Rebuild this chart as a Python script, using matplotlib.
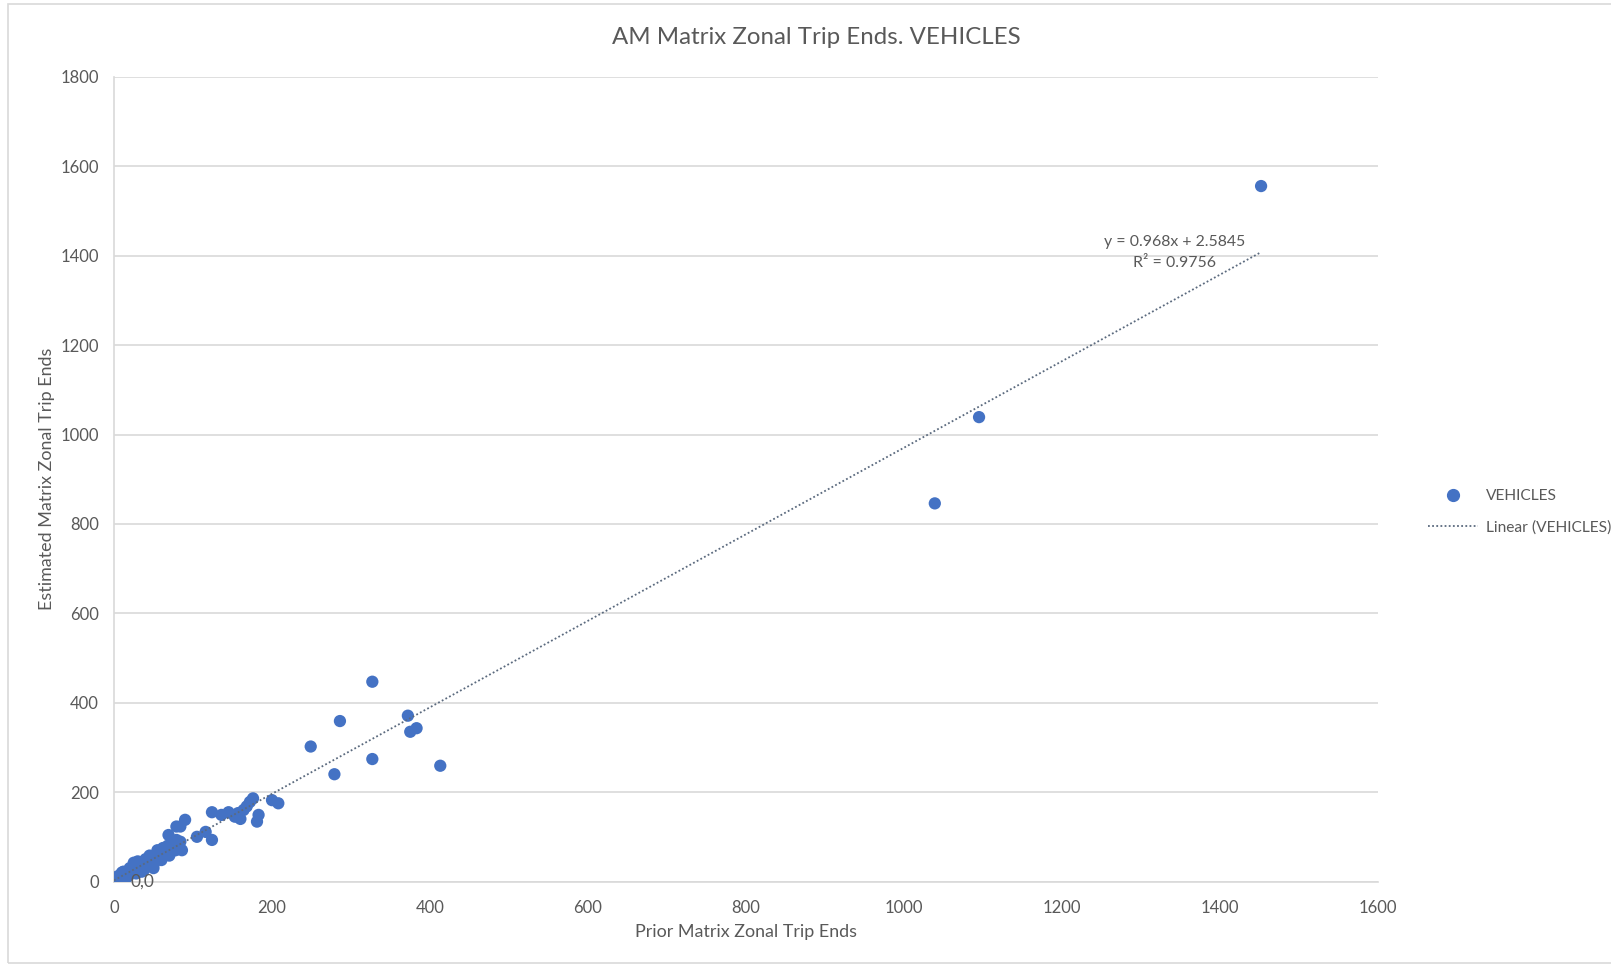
import matplotlib
matplotlib.use("Agg")
import matplotlib.pyplot as plt
from matplotlib.lines import Line2D
from matplotlib.patches import Rectangle

plt.rcParams['font.family'] = ['Lato', 'DejaVu Sans']

title = "AM Matrix Zonal Trip Ends. VEHICLES"
x_label = "Prior Matrix Zonal Trip Ends"
y_label = "Estimated Matrix Zonal Trip Ends"
series_name = "VEHICLES"
trend_name = "Linear (VEHICLES)"

prior = [0, 1, 2, 3, 4, 5, 6, 7, 8, 9, 10, 11, 12, 13, 14, 15, 16, 17, 18, 19, 20,
         22, 23, 25, 26, 28, 29, 31, 32, 34, 35, 37, 38, 40, 41, 43, 44, 46, 48, 50,
         52, 55, 57, 60, 62, 65, 67, 70, 72, 75, 78, 80, 25, 30, 20, 45, 55,
         10, 15, 30, 35, 40, 50, 45, 60, 62, 70, 55, 75, 68, 50, 18, 28, 38, 5, 12,
         69, 79, 84, 90, 86, 79, 84, 79, 73, 65, 105, 116, 124, 124, 136, 153, 157,
         164, 172, 176, 181, 183, 200, 208, 145, 168, 160,
         249, 286, 279, 327, 327, 372, 375, 383, 413, 1039, 1095, 1452]
estimated = [0, 2, 1, 5, 3, 7, 4, 8, 6, 11, 9, 13, 10, 15, 12, 17, 14, 19, 16, 21, 18,
             24, 20, 27, 22, 30, 25, 33, 28, 36, 31, 39, 34, 42, 37, 45, 40, 48, 41, 52,
             47, 56, 50, 63, 58, 66, 60, 72, 66, 77, 70, 74, 42, 38, 30, 35, 60,
             20, 8, 45, 22, 50, 38, 58, 48, 75, 58, 70, 85, 80, 30, 12, 18, 26, 12, 22,
             104, 123, 123, 138, 70, 85, 89, 93, 70, 63, 100, 111, 93, 155, 149, 145, 153,
             160, 178, 186, 134, 149, 182, 175, 155, 168, 140,
             302, 359, 240, 447, 274, 371, 335, 343, 259, 846, 1039, 1556]

slope = 0.968
intercept = 2.5845
r_squared = 0.9756

x_ticks = [0, 200, 400, 600, 800, 1000, 1200, 1400, 1600]
y_ticks = [0, 200, 400, 600, 800, 1000, 1200, 1400, 1600, 1800]

blue = '#4472C4'
text_gray = '#595959'
grid_gray = '#d9d9d9'
trend_color = '#5b6a7e'

fig = plt.figure(figsize=(16.11, 9.65), dpi=100)
ax = fig.add_axes([114/1611, 1-881.5/965, 1264/1611, 804.5/965])

# chart border
fig.patches.append(Rectangle((8/1611, 1-963/965), 1.2, (963-4)/965, transform=fig.transFigure,
                             fill=False, edgecolor='#d9d9d9', linewidth=1.2, zorder=0))

ax.scatter(prior, estimated, s=78, color=blue, edgecolors='none', zorder=3)

x0, x1 = min(prior), max(prior)
ax.plot([x0, x1], [slope*x0 + intercept, slope*x1 + intercept], linestyle=(0, (1, 1.3)),
        color=trend_color, linewidth=1.3, zorder=4)

ax.set_xlim(0, 1600)
ax.set_ylim(0, 1800)
ax.set_xticks(x_ticks)
ax.set_yticks(y_ticks)
ax.tick_params(axis='both', length=0, labelsize=12, labelcolor=text_gray)
ax.tick_params(axis='x', pad=13)
ax.tick_params(axis='y', pad=11)
ax.yaxis.grid(True, color=grid_gray, linewidth=1.2)
ax.set_axisbelow(True)
for s in ['top', 'right']:
    ax.spines[s].set_visible(False)
ax.spines['left'].set_color(grid_gray)
ax.spines['bottom'].set_color(grid_gray)
ax.spines['left'].set_linewidth(1.2)
ax.spines['bottom'].set_linewidth(1.2)

ax.set_xlabel(x_label, fontsize=12.9, color=text_gray)
ax.set_ylabel(y_label, fontsize=12.9, color=text_gray)
ax.xaxis.set_label_coords(0.5, -(924-881.5)/804.5)
ax.yaxis.set_label_coords(-(114-55)/1264, 0.5)

fig.text(816/1611, 1-37/965, title, ha='center', va='center', fontsize=17.3, color=text_gray)

ax.annotate("0,0", xy=(prior[0], estimated[0]), xytext=(12, 0), textcoords='offset points',
            ha='left', va='center', fontsize=12.5, color=text_gray, zorder=5)

ax.text(1343, 1431, f"y = {slope}x + {intercept}", ha='center', va='center',
        fontsize=11.4, color=text_gray)
ax.text(1343, 1384, f"R\u00b2 = {r_squared}", ha='center', va='center',
        fontsize=11.4, color=text_gray)

handles = [Line2D([], [], marker='o', linestyle='none', color=blue, markersize=8.5),
           Line2D([], [], linestyle=(0, (1, 1.3)), color=trend_color, linewidth=1.3)]
leg = fig.legend(handles, [series_name, trend_name], loc='center left',
                 bbox_to_anchor=(1414/1611, 1-512/965), frameon=False, fontsize=11.2,
                 handlelength=3.2, handletextpad=0.5, labelspacing=1.1, labelcolor=text_gray)

fig.savefig("out.png", dpi=100)
